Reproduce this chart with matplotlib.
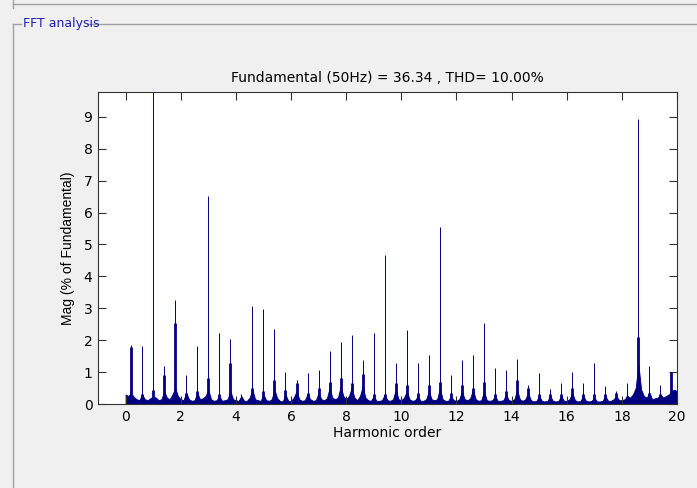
import matplotlib
matplotlib.use('Agg')
import matplotlib.pyplot as plt
from matplotlib.lines import Line2D
import numpy as np

# harmonic peaks, spaced 0.4 harmonic apart (20 Hz resolution on 50 Hz)
peak_order = [0.2, 0.6, 1.0, 1.4, 1.8, 2.2, 2.6, 3.0, 3.4, 3.8,
              4.2, 4.6, 5.0, 5.4, 5.8, 6.2, 6.6, 7.0, 7.4, 7.8,
              8.2, 8.6, 9.0, 9.4, 9.8, 10.2, 10.6, 11.0, 11.4, 11.8,
              12.2, 12.6, 13.0, 13.4, 13.8, 14.2, 14.6, 15.0, 15.4, 15.8,
              16.2, 16.6, 17.0, 17.4, 17.8, 18.2, 18.6, 19.0, 19.4, 19.8]
peak_mag = [1.85, 1.82, 100.0, 1.19, 3.27, 0.90, 1.82, 6.52, 2.22, 2.04,
            0.30, 3.08, 2.97, 2.35, 1.00, 0.75, 0.97, 1.07, 1.67, 1.94,
            2.15, 1.38, 2.24, 4.66, 1.27, 2.33, 1.27, 1.53, 5.56, 0.90,
            1.39, 1.53, 2.55, 1.13, 1.07, 1.41, 0.58, 0.97, 0.47, 0.66,
            1.01, 0.66, 1.30, 0.55, 0.40, 0.66, 8.94, 1.20, 0.60, 1.00]
# darker inner part of each peak
peak_inner = [1.80, 0.30, 0.45, 0.90, 2.55, 0.35, 0.40, 0.80, 0.30, 1.30,
              0.20, 0.50, 0.40, 0.75, 0.45, 0.65, 0.35, 0.50, 0.70, 0.80,
              0.65, 0.95, 0.30, 0.30, 0.65, 0.60, 0.35, 0.60, 0.70, 0.35,
              0.60, 0.50, 0.70, 0.30, 0.40, 0.75, 0.50, 0.30, 0.30, 0.30,
              0.50, 0.30, 0.30, 0.30, 0.35, 0.25, 2.10, 0.35, 0.30, 1.00]

# noise floor, one value per 0.1 harmonic from 0.0 to 20.0
floor_mag = [
    0.30, 0.25, 0.35, 0.22, 0.15, 0.12, 0.30, 0.15, 0.12, 0.18,
    0.25, 0.20, 0.12, 0.15, 0.40, 0.20, 0.15, 0.30, 0.50, 0.25,
    0.15, 0.12, 0.35, 0.15, 0.10, 0.12, 0.35, 0.15, 0.18, 0.25,
    0.45, 0.15, 0.10, 0.12, 0.25, 0.10, 0.12, 0.15, 0.40, 0.15,
    0.12, 0.10, 0.25, 0.10, 0.10, 0.20, 0.45, 0.15, 0.12, 0.10,
    0.30, 0.12, 0.10, 0.15, 0.45, 0.18, 0.10, 0.08, 0.30, 0.10,
    0.10, 0.20, 0.40, 0.15, 0.10, 0.12, 0.30, 0.15, 0.10, 0.12,
    0.35, 0.15, 0.12, 0.18, 0.50, 0.20, 0.15, 0.20, 0.55, 0.25,
    0.15, 0.25, 0.50, 0.20, 0.12, 0.25, 0.55, 0.20, 0.12, 0.10,
    0.25, 0.10, 0.10, 0.12, 0.30, 0.12, 0.10, 0.15, 0.45, 0.15,
    0.12, 0.20, 0.40, 0.15, 0.10, 0.12, 0.25, 0.10, 0.10, 0.15,
    0.40, 0.15, 0.12, 0.15, 0.50, 0.15, 0.10, 0.10, 0.25, 0.12,
    0.10, 0.15, 0.40, 0.15, 0.12, 0.18, 0.45, 0.15, 0.10, 0.12,
    0.40, 0.12, 0.10, 0.12, 0.25, 0.10, 0.10, 0.12, 0.30, 0.12,
    0.10, 0.15, 0.45, 0.15, 0.10, 0.15, 0.35, 0.12, 0.08, 0.10,
    0.25, 0.10, 0.08, 0.10, 0.25, 0.10, 0.08, 0.10, 0.25, 0.10,
    0.10, 0.15, 0.35, 0.12, 0.08, 0.10, 0.25, 0.10, 0.08, 0.10,
    0.20, 0.08, 0.08, 0.10, 0.25, 0.10, 0.10, 0.15, 0.25, 0.12,
    0.12, 0.15, 0.25, 0.20, 0.30, 0.50, 1.25, 0.45, 0.25, 0.20,
    0.35, 0.15, 0.18, 0.20, 0.30, 0.20, 0.25, 0.30, 0.40, 0.45,
    0.40]
floor_order = np.arange(len(floor_mag)) * 0.1

title_txt = 'Fundamental (50Hz) = 36.34 , THD= 10.00%'
xticks = [0, 2, 4, 6, 8, 10, 12, 14, 16, 18, 20]
yticks = [0, 1, 2, 3, 4, 5, 6, 7, 8, 9]

BAR = '#000080'
BG = '#F0F0F0'
NARROW = ['Liberation Sans Narrow', 'DejaVu Sans']

fig = plt.figure(figsize=(6.97, 4.88), dpi=100, facecolor=BG)
W, H = 697.0, 488.0

#group box frame
def fig_line(x0, y0, x1, y1, color='#A0A0A0'):
    fig.add_artist(Line2D([x0/W, x1/W], [1-y0/H, 1-y1/H], color=color, lw=1.0,
                          transform=fig.transFigure))
fig_line(13, 4, 697, 4)
fig_line(13, 0, 13, 8)
fig_line(13, 23.5, 21, 23.5)
fig_line(87, 23.5, 697, 23.5)
fig_line(13, 23.5, 13, 488)
fig.text(23/W, 1-23.5/H, 'FFT analysis', color='#2020B0', fontsize=9,
         family=NARROW, va='center', ha='left')

ax = fig.add_axes([98/W, 1-404/H, (677-98)/W, (404-92)/H])
ax.set_facecolor('white')

ax.fill_between(floor_order, floor_mag, 0, color=BAR, lw=0.6, edgecolor=BAR)
ax.vlines(peak_order, 0, peak_mag, color=BAR, lw=0.7)
ax.vlines(peak_order, 0, peak_inner, color=BAR, lw=2.0)

ax.set_xlim(-1, 20)
ax.set_ylim(0, 9.78)
ax.set_xticks(xticks)
ax.set_yticks(yticks)
ax.tick_params(direction='in', length=6, width=0.8, color='#333333',
               top=True, right=True, labelsize=10, pad=4)
for lab in ax.get_xticklabels() + ax.get_yticklabels():
    lab.set_family(NARROW)
for s in ax.spines.values():
    s.set_color('#333333')
    s.set_linewidth(0.8)

ax.set_title(title_txt, fontsize=10, family=NARROW, pad=7)
ax.set_xlabel('Harmonic order', fontsize=10, family=NARROW, labelpad=2)
ax.set_ylabel('Mag (% of Fundamental)', fontsize=10, family=['Liberation Sans', 'DejaVu Sans'],
              labelpad=6)

fig.savefig('out.png', dpi=100, facecolor=BG)
